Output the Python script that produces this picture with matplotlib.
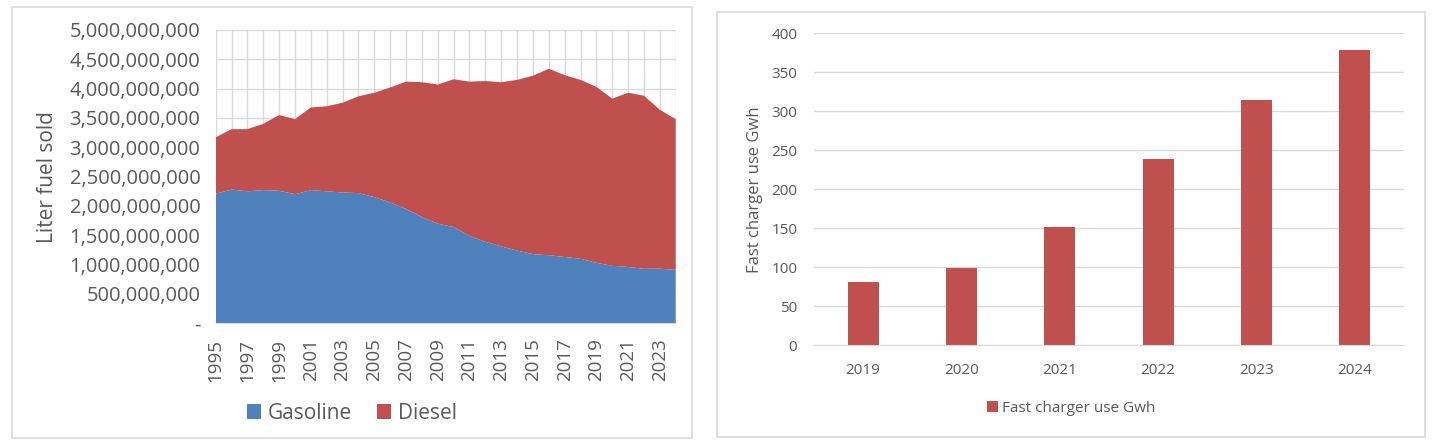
import matplotlib
matplotlib.use("Agg")
import matplotlib.pyplot as plt
from matplotlib.patches import Rectangle, Patch
from matplotlib.ticker import FuncFormatter, MultipleLocator

# ---------------- data ----------------
years = list(range(1995, 2025))
gasoline = [2.21e9, 2.28e9, 2.25e9, 2.27e9, 2.26e9, 2.20e9, 2.27e9, 2.25e9, 2.23e9, 2.22e9,
            2.15e9, 2.06e9, 1.95e9, 1.81e9, 1.70e9, 1.64e9, 1.49e9, 1.39e9, 1.31e9, 1.24e9,
            1.18e9, 1.16e9, 1.13e9, 1.10e9, 1.03e9, 0.98e9, 0.96e9, 0.93e9, 0.93e9, 0.91e9]
diesel = [0.96e9, 1.03e9, 1.06e9, 1.13e9, 1.29e9, 1.28e9, 1.41e9, 1.45e9, 1.53e9, 1.65e9,
          1.78e9, 1.96e9, 2.17e9, 2.30e9, 2.37e9, 2.52e9, 2.63e9, 2.74e9, 2.80e9, 2.91e9,
          3.04e9, 3.18e9, 3.10e9, 3.05e9, 3.00e9, 2.85e9, 2.97e9, 2.95e9, 2.71e9, 2.57e9]
series_names = ["Gasoline", "Diesel"]

charger_years = ["2019", "2020", "2021", "2022", "2023", "2024"]
charger_gwh = [81, 99, 152, 239, 315, 379]
charger_name = "Fast charger use Gwh"

# ---------------- style ----------------
BLUE = "#4F81BD"
RED = "#C0504D"
GRID = "#D9D9D9"
TXT = "#595959"
W, H = 1432, 448

plt.rcParams["font.family"] = ["Open Sans", "DejaVu Sans"]

fig = plt.figure(figsize=(W / 100, H / 100), dpi=100)

def fx(px):
    return px / W

def fy(py):
    return 1 - py / H

# panel borders
for (x0, y0, x1, y1) in [(11.7, 7.3, 691.7, 438.0), (717.3, 12.3, 1425.3, 436.7)]:
    fig.patches.append(Rectangle((fx(x0), fy(y1)), fx(x1) - fx(x0), fy(y0) - fy(y1),
                                 transform=fig.transFigure, fill=False,
                                 edgecolor=GRID, linewidth=1.2))

# ---------------- left: stacked area ----------------
ax1 = fig.add_axes([fx(215.7), fy(323.3), fx(675.7) - fx(215.7), fy(30) - fy(323.3)])
ax1.stackplot(years, gasoline, diesel, colors=[BLUE, RED], linewidth=0, zorder=2)
ax1.set_xlim(years[0], years[-1])
ax1.set_ylim(0, 5e9)
ax1.yaxis.set_major_locator(MultipleLocator(5e8))
ax1.yaxis.set_major_formatter(FuncFormatter(lambda v, p: "-" if v == 0 else f"{v:,.0f}"))
ax1.set_xticks(years)
ax1.set_xticklabels([str(y) if (y - years[0]) % 2 == 0 else "" for y in years],
                    rotation=90)
ax1.grid(True, color=GRID, linewidth=1, zorder=0)
ax1.set_axisbelow(True)
for s in ["top", "right", "left"]:
    ax1.spines[s].set_visible(False)
ax1.spines["bottom"].set_color(GRID)
ax1.tick_params(axis="both", length=0, colors=TXT)
ax1.tick_params(axis="y", pad=11, labelsize=14.5)
ax1.tick_params(axis="x", pad=11, labelsize=13.5)
ax1.set_ylabel("Liter fuel sold", fontsize=15, color=TXT, labelpad=8)

handles = [Patch(facecolor=BLUE, edgecolor="none"), Patch(facecolor=RED, edgecolor="none")]
fig.legend(handles, series_names, loc="center", bbox_to_anchor=(fx(351.7), fy(413)),
           ncol=2, frameon=False, fontsize=15, handlelength=0.7, handleheight=0.7,
           handletextpad=0.3, columnspacing=1.2, labelcolor=TXT)

# ---------------- right: bar chart ----------------
ax2 = fig.add_axes([fx(814), fy(345.3), fx(1404) - fx(814), fy(33.3) - fy(345.3)])
xpos = list(range(len(charger_years)))
ax2.bar(xpos, charger_gwh, width=0.315, color=RED, zorder=2)
ax2.set_xlim(-0.5, len(charger_years) - 0.5)
ax2.set_ylim(0, 400)
ax2.yaxis.set_major_locator(MultipleLocator(50))
ax2.set_xticks(xpos)
ax2.set_xticklabels(charger_years)
ax2.grid(True, axis="y", color=GRID, linewidth=1, zorder=0)
ax2.set_axisbelow(True)
for s in ["top", "right", "left"]:
    ax2.spines[s].set_visible(False)
ax2.spines["bottom"].set_color(GRID)
ax2.tick_params(axis="both", length=0, labelsize=11, colors=TXT)
ax2.tick_params(axis="y", pad=12)
ax2.tick_params(axis="x", pad=13)
ax2.set_ylabel(charger_name, fontsize=12, color=TXT, labelpad=6)

fig.legend([Patch(facecolor=RED, edgecolor="none")], [charger_name], loc="center",
           bbox_to_anchor=(fx(1071.3), fy(408)), frameon=False, fontsize=11,
           handlelength=0.7, handleheight=0.7, handletextpad=0.3, labelcolor=TXT)

fig.savefig("out.png", dpi=100)
